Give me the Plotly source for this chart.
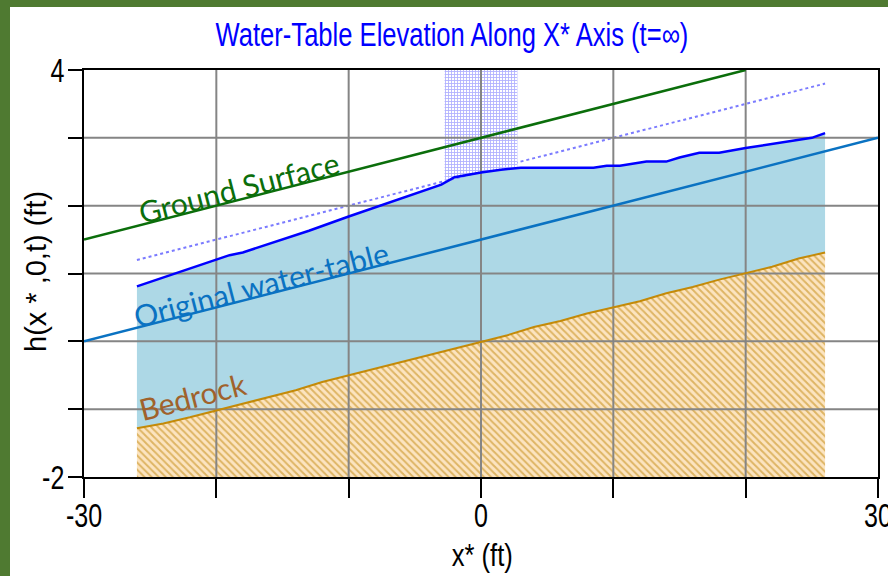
import numpy as np
import plotly.graph_objects as go

# ---------------- data ----------------
X_RANGE = [-30, 30]
Y_RANGE = [-2, 4]
X_TICKS = [-30, -20, -10, 0, 10, 20, 30]
X_TICKTEXT = ["-30", "", "", "0", "", "", "30"]
Y_TICKS = [-2, -1, 0, 1, 2, 3, 4]
Y_TICKTEXT = ["-2", "", "", "", "", "", "4"]
X_GRID = [-20, -10, 0, 10, 20]
Y_GRID = [-1, 0, 1, 2, 3]

# ground surface
ground_x = [-30, 20]
ground_y = [1.5, 4.0]

# original water-table
orig_x = [-30, 30]
orig_y = [0.0, 3.0]

# dotted reference line
dot_x = [-26, 26]
dot_y = [1.2, 3.8]

# steady-state water table
wt_x = [-26, -22, -19, -18, -13, -10, -6, -3, -2, 0, 1.5, 3, 8.5, 9.5, 10.5,
        12.5, 14, 15, 16.5, 18, 20, 22, 25, 26]
wt_y = [0.81, 1.07, 1.27, 1.31, 1.63, 1.84, 2.11, 2.31, 2.42, 2.49, 2.53, 2.56,
        2.56, 2.59, 2.59, 2.65, 2.65, 2.71, 2.78, 2.78, 2.85, 2.91, 3.0, 3.07]

# bedrock
bed_x = [-26, -24, -22, -20, -18, -16, -14, -12, -10, -8, -6, -4, -2, 0, 2, 4,
         6, 8, 10, 12, 14, 16, 18, 20, 22, 24, 26]
bed_y = [-1.28, -1.21, -1.12, -1.02, -0.93, -0.82, -0.72, -0.60, -0.50, -0.41,
         -0.30, -0.21, -0.10, 0.00, 0.09, 0.21, 0.30, 0.41, 0.50, 0.59, 0.71,
         0.80, 0.91, 1.01, 1.10, 1.22, 1.31]

# recharge zone (cross-hatched)
hatch_x = [-2.75, 2.75]

TITLE = "Water-Table Elevation Along X* Axis (t=\u221e)"
XLABEL = "x* (ft)"
YLABEL = "h(x * ,0,t) (ft)"

# ---------------- layout constants ----------------
W, H = 888, 576
ML, MR, MT, MB = 84, 10, 70, 99
PW, PH = W - ML - MR, H - MT - MB

SANS = "Liberation Sans, Arial, sans-serif"
LABEL = "Lato, Open Sans, sans-serif"

def px_to_paper_x(px):
    return (px - ML) / PW

def px_to_paper_y(py):
    return (H - MB - py) / PH

fig = go.Figure()

# bedrock fill
fig.add_trace(go.Scatter(
    x=bed_x + [bed_x[-1], bed_x[0]],
    y=bed_y + [Y_RANGE[0], Y_RANGE[0]],
    fill="toself", mode="none",
    fillcolor="#FCE4C0",
    fillpattern=dict(shape="\\", fgcolor="#C08508", bgcolor="#FCE4C0",
                     size=5, solidity=0.4),
    hoverinfo="skip", showlegend=False))

# saturated zone fill
fig.add_trace(go.Scatter(
    x=wt_x + bed_x[::-1],
    y=wt_y + bed_y[::-1],
    fill="toself", mode="none", fillcolor="#ADD8E6",
    hoverinfo="skip", showlegend=False))

# dotted line
fig.add_trace(go.Scatter(
    x=dot_x, y=dot_y, mode="lines",
    line=dict(color="#7B7BFF", width=2, dash="dot"),
    hoverinfo="skip", showlegend=False))

# recharge hatch
hx = [hatch_x[0]] + [x for x in wt_x if hatch_x[0] < x < hatch_x[1]] + [hatch_x[1]]
hy = list(np.interp(hx, wt_x, wt_y))
fig.add_trace(go.Scatter(
    x=hx + [hatch_x[1], hatch_x[0]],
    y=hy + [Y_RANGE[1], Y_RANGE[1]],
    fill="toself", mode="none", fillcolor="white",
    fillpattern=dict(shape="+", fgcolor="#6464FF", bgcolor="white",
                     size=3, solidity=0.5),
    hoverinfo="skip", showlegend=False))

# grid lines (drawn above fills)
gx, gy = [], []
for v in X_GRID:
    gx += [v, v, None]
    gy += [Y_RANGE[0], Y_RANGE[1], None]
for v in Y_GRID:
    gx += [X_RANGE[0], X_RANGE[1], None]
    gy += [v, v, None]
fig.add_trace(go.Scatter(x=gx, y=gy, mode="lines",
                         line=dict(color="#858585", width=2),
                         hoverinfo="skip", showlegend=False))

# lines
fig.add_trace(go.Scatter(x=bed_x, y=bed_y, mode="lines",
                         line=dict(color="#C48A08", width=2),
                         hoverinfo="skip", showlegend=False))
fig.add_trace(go.Scatter(x=orig_x, y=orig_y, mode="lines",
                         line=dict(color="#0A72C2", width=2.5),
                         hoverinfo="skip", showlegend=False))
fig.add_trace(go.Scatter(x=ground_x, y=ground_y, mode="lines",
                         line=dict(color="#0B6E0B", width=2.5),
                         hoverinfo="skip", showlegend=False))
fig.add_trace(go.Scatter(x=wt_x, y=wt_y, mode="lines",
                         line=dict(color="#0000FF", width=2.5),
                         hoverinfo="skip", showlegend=False))

angle = -14.4
annotations = [
    dict(x=-18.26, y=2.27, text="Ground Surface", font=dict(family=LABEL, size=30, color="#0B6E0B")),
    dict(x=-16.59, y=0.85, text="Original water-table", font=dict(family=LABEL, size=30, color="#0A72C2")),
    dict(x=-21.77, y=-0.81, text="Bedrock", font=dict(family=LABEL, size=30, color="#A0622C")),
]
for a in annotations:
    a.update(xref="x", yref="y", showarrow=False, textangle=angle,
             xanchor="center", yanchor="middle")

annotations += [
    dict(xref="paper", yref="paper", x=px_to_paper_x(482), y=px_to_paper_y(555),
         text=XLABEL, showarrow=False, xanchor="center", yanchor="middle",
         font=dict(family=SANS, size=32, color="black")),
    dict(xref="paper", yref="paper", x=px_to_paper_x(36), y=px_to_paper_y(272),
         text=YLABEL, showarrow=False, xanchor="center", yanchor="middle",
         textangle=-90, font=dict(family=SANS, size=29, color="black")),
]

axis_common = dict(showgrid=False, zeroline=False, showline=True, mirror=True,
                   linecolor="black", linewidth=2, ticks="outside",
                   tickcolor="black", tickwidth=2, automargin=False,
                   ticklabeloverflow="allow",
                   tickfont=dict(family=SANS, size=33, color="black"))

fig.update_layout(
    width=W, height=H,
    margin=dict(l=ML, r=MR, t=MT, b=MB, pad=0),
    paper_bgcolor="#4F7A31",
    plot_bgcolor="white",
    title=dict(text=TITLE, x=452 / W, y=1 - 34 / H, xref="container", yref="container",
               xanchor="center", yanchor="middle",
               font=dict(family=SANS, size=33, color="#0000FF")),
    xaxis=dict(range=X_RANGE, tickvals=X_TICKS, ticktext=X_TICKTEXT,
               ticklen=19, ticklabelstandoff=-11, **axis_common),
    yaxis=dict(range=Y_RANGE, tickvals=Y_TICKS, ticktext=Y_TICKTEXT,
               ticklen=14, ticklabelstandoff=-3, **axis_common),
    annotations=annotations,
    shapes=[dict(type="rect", xref="paper", yref="paper", layer="below",
                 x0=px_to_paper_x(10), x1=px_to_paper_x(W + 20),
                 y0=px_to_paper_y(H + 20), y1=px_to_paper_y(7),
                 fillcolor="white", line=dict(width=0))],
    showlegend=False,
)

# page tweaks: no body margin; condensed look for the narrow-font texts
POST = """
document.body.style.margin = '0';
var gd = document.getElementById('{plot_id}');
function squeeze(list, s) {
  list.forEach(function(el) {
    var b = el.getBBox();
    var anchor = el.getAttribute('text-anchor') || 'start';
    var cx = anchor === 'middle' ? b.x + b.width / 2 : (anchor === 'end' ? b.x + b.width : b.x);
    var t = el.getAttribute('transform') || '';
    el.setAttribute('transform', t + ' translate(' + cx + ',0) scale(' + s + ',1) translate(' + (-cx) + ',0)');
  });
}
squeeze(Array.from(gd.querySelectorAll('.gtitle')), 0.775);
squeeze(Array.from(gd.querySelectorAll('.xtick text, .ytick text')), 0.76);
squeeze(Array.from(gd.querySelectorAll('.annotation-text')).filter(function(el) {
  return el.textContent === 'x* (ft)';
}), 0.80);
"""

fig.write_html("out.html", post_script=POST, config={"displayModeBar": False})
